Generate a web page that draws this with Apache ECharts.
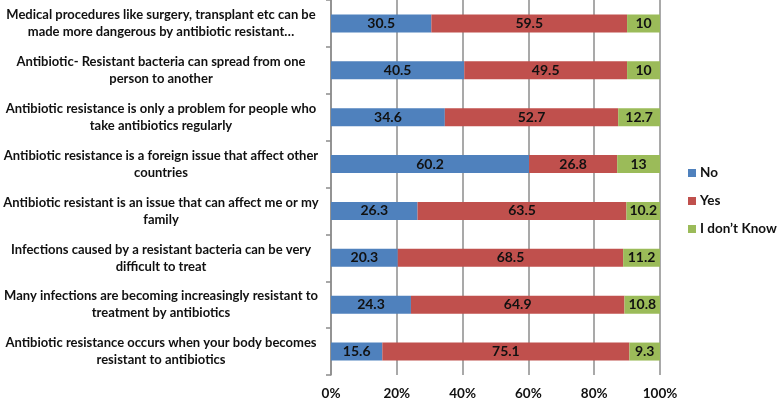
<!DOCTYPE html>
<html><head><meta charset="utf-8">
<script src="https://cdn.jsdelivr.net/npm/echarts@6/dist/echarts.min.js"></script>
<style>html,body{margin:0;padding:0;background:#fff}#c{width:778px;height:401px}</style>
</head><body><div id="c"></div>
<script>
const categories = [
  "Medical procedures like surgery, transplant etc can be\nmade more dangerous by antibiotic resistant…",
  "Antibiotic- Resistant bacteria can spread from one\nperson to another",
  "Antibiotic resistance is only a problem for people who\ntake antibiotics regularly",
  "Antibiotic resistance is a foreign issue that affect other\ncountries",
  "Antibiotic resistant is an issue that can affect me or my\nfamily",
  "Infections caused by a resistant bacteria can be very\ndifficult to treat",
  "Many infections are becoming increasingly resistant to\ntreatment by antibiotics",
  "Antibiotic resistance occurs when your body becomes\nresistant to antibiotics"
];
const noValues = [30.5, 40.5, 34.6, 60.2, 26.3, 20.3, 24.3, 15.6];
const yesValues = [59.5, 49.5, 52.7, 26.8, 63.5, 68.5, 64.9, 75.1];
const dontKnowValues = [10, 10, 12.7, 13, 10.2, 11.2, 10.8, 9.3];
const seriesNames = ["No", "Yes", "I don\u2019t Know"];
const xTicks = [0, 20, 40, 60, 80, 100];

const FONT = "Lato";
const chart = echarts.init(document.getElementById('c'), null, {renderer: 'canvas'});
const lbl = {show: true, position: 'inside', color: '#111', fontWeight: 'bold', fontSize: 14, fontFamily: FONT};
function mk(name, data, color) {
  return {name, type: 'bar', stack: 'total', data, barWidth: 18,
    itemStyle: {color}, label: lbl, emphasis: {disabled: true}};
}
chart.setOption({
  animation: false,
  textStyle: {fontFamily: FONT},
  grid: {left: 331, right: 118, top: 0, bottom: 26, containLabel: false},
  legend: {
    orient: 'vertical', left: 683, top: 161, itemWidth: 8, itemHeight: 8, itemGap: 14,
    icon: 'rect', itemStyle: {borderWidth: 0},
    textStyle: {fontFamily: FONT, fontWeight: 'bold', fontSize: 13.5, color: '#111', padding: [0, 0, 0, -1]},
    data: seriesNames
  },
  xAxis: {
    type: 'value', min: xTicks[0], max: xTicks[xTicks.length - 1], interval: 20,
    axisLine: {show: false}, axisTick: {show: false},
    splitLine: {show: true, lineStyle: {color: '#8c8c8c', width: 1.5}},
    axisLabel: {formatter: '{value}%', color: '#111', fontWeight: 'bold', fontSize: 13.5, fontFamily: FONT, margin: 12}
  },
  yAxis: {
    type: 'category', inverse: true, data: categories,
    axisLine: {show: true, lineStyle: {color: '#8c8c8c', width: 1.5}},
    axisTick: {show: true, length: 5, lineStyle: {color: '#8c8c8c', width: 1.5}},
    axisLabel: {align: 'center', margin: 170, color: '#111', fontWeight: 'bold', fontSize: 13, fontFamily: FONT, lineHeight: 17}
  },
  series: [
    mk(seriesNames[0], noValues, '#4F81BD'),
    mk(seriesNames[1], yesValues, '#C0504D'),
    mk(seriesNames[2], dontKnowValues, '#9BBB59')
  ]
});
</script></body></html>
